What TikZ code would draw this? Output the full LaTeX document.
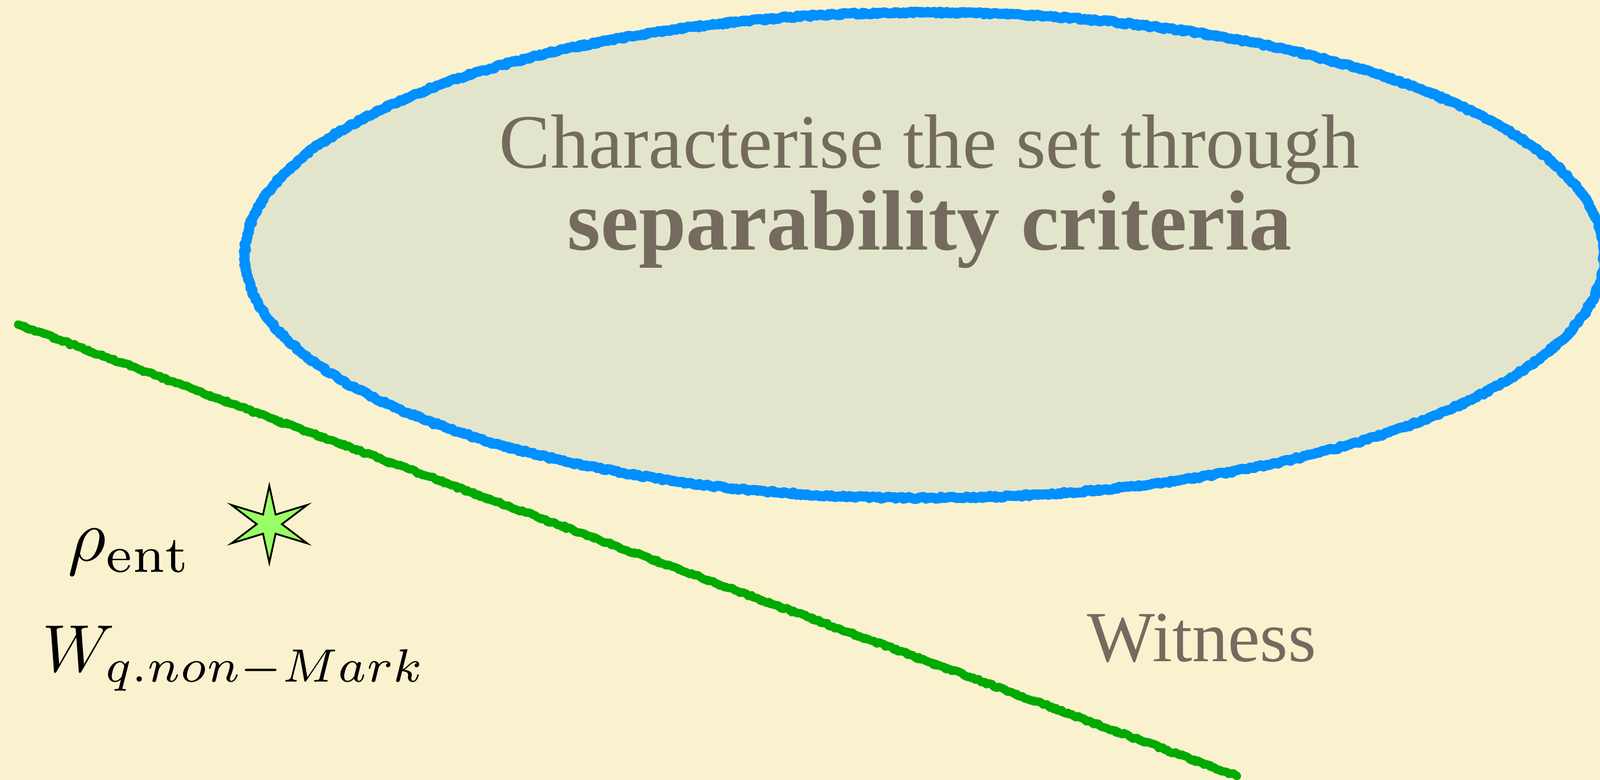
\documentclass[tikz,border=0pt]{standalone}
\usepackage{fontspec}
\usetikzlibrary{shapes.geometric,decorations.pathmorphing}
\newfontfamily\witfont{Liberation Serif}
\definecolor{paper}{RGB}{250,242,206}
\definecolor{setfill}{RGB}{226,229,203}
\definecolor{chalkblue}{RGB}{0,144,255}
\definecolor{chalkgreen}{RGB}{0,170,0}
\definecolor{inkgrey}{RGB}{117,106,94}
\definecolor{stargreen}{RGB}{153,255,102}
\tikzset{
    chalk/.style={line width=#1, line cap=round, line join=round,
        decorate, decoration={random steps, segment length=1.2pt, amplitude=0.6pt}},
    greytext/.style={inkgrey, align=center},
}
\begin{document}
\begin{tikzpicture}
    \useasboundingbox (0,0) rectangle (28.16,13.72);
    \clip (0,0) rectangle (28.16,13.72);
    \fill[paper] (0,0) rectangle (28.16,13.72);
    % the set
    \fill[setfill] (16.27,9.23) ellipse [x radius=11.96, y radius=4.27];
    \draw[chalkblue, chalk=5pt] (16.27,9.23) ellipse [x radius=11.96, y radius=4.27];
    \draw[chalkblue, chalk=2.5pt] (16.27,9.25) ellipse [x radius=11.98, y radius=4.29];
    \node[greytext, anchor=base, font=\witfont\fontsize{38.5}{46}\selectfont] (crit) at (16.36,10.76) {Characterise the set through};
    \node[greytext, anchor=base, font=\witfont\bfseries\fontsize{42.8}{46}\selectfont] (critb) at (16.36,9.32) {separability criteria};
    % witness
    \coordinate (wa) at (0.32,8.01);
    \coordinate (wb) at (21.77,0.07);
    \draw[chalkgreen, chalk=4.2pt] (wa) -- (wb);
    \draw[chalkgreen, chalk=2pt] ([yshift=0.03cm]wa) -- ([yshift=0.03cm]wb);
    \node[greytext, anchor=base west, font=\witfont\fontsize{36}{40}\selectfont, inner sep=0pt] (wit) at (19.13,2.08) {Witness};
    % entangled state
    \node[star, star points=6, star point ratio=3.47, draw=black, line width=0.9pt, fill=stargreen,
        minimum size=1.35cm, inner sep=0pt, xscale=1.14, transform shape] (rho) at (4.74,4.50) {};
    \node[anchor=base west, scale=3.7, inner sep=0pt] (rholab) at (1.17,3.85) {$\rho_{\rm ent}$};
    \node[anchor=base west, scale=3.35, inner sep=0pt] (wlab) at (0.72,1.90) {$W_{q.non-Mark}$};
\end{tikzpicture}
\end{document}
